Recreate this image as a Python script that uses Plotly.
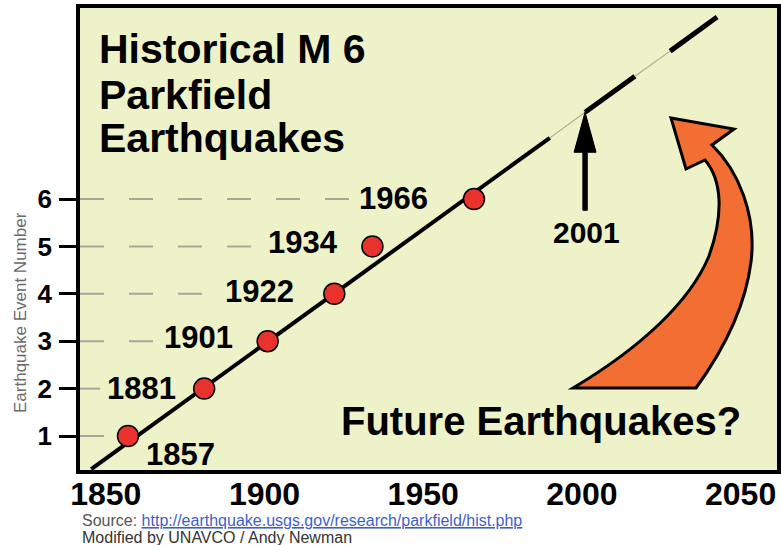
import plotly.graph_objects as go

# ---------------- data ----------------
quake_years = [1857, 1881, 1901, 1922, 1934, 1966]
event_numbers = [1, 2, 3, 4, 5, 6]
year_labels = ["1857", "1881", "1901", "1922", "1934", "1966"]

# trend line break points (year, event number): solid, thin, dash, thin, dash
trend_years = [1845.4, 1989.9, 2001.0, 2016.7, 2027.8, 2042.6]
trend_events = [0.30, 7.29, 7.83, 8.59, 9.12, 9.84]

x_ticks = [1850, 1900, 1950, 2000, 2050]
x_tick_labels = ["1850", "1900", "1950", "2000", "2050"]
y_ticks = [1, 2, 3, 4, 5, 6]
y_tick_labels = ["1", "2", "3", "4", "5", "6"]

predicted_year = 2001
predicted_label = "2001"

title_lines = ["Historical M 6", "Parkfield", "Earthquakes"]
future_text = "Future Earthquakes?"
y_title = "Earthquake Event Number"
source_prefix = "Source: "
source_url = "http://earthquake.usgs.gov/research/parkfield/hist.php"
credit_text = "Modified by UNAVCO / Andy Newman"

# ---------------- layout / style ----------------
W, H = 781, 545
ML, MR, MT, MB = 80, 4, 8, 75
X_RANGE = [1841.88, 2061.47]
Y_RANGE = [0.283, 10.03]
PW = W - ML - MR
PH = H - MT - MB
px_per_year = PW / (X_RANGE[1] - X_RANGE[0])

FONT = "Liberation Sans, Arial, Helvetica, sans-serif"
BG = "#EDF2C9"
RED = "#E8322B"
ORANGE = "#F26E33"
GRID = "#A6A89A"
THIN = "#A9AE8C"

label_anchor = ["left", "right", "right", "right", "right", "right"]
label_dx = [16, -26, -33, -38, -32, -44]
label_dy = [-18, 0, 4, 2, 4, 1]
label_w = 69


def rel(x, y):
    """page pixel -> pixel offset from the plot's bottom-left corner"""
    return x - ML, (MT + PH) - y


fig = go.Figure()

# trend line segments
seg_styles = [
    (0, 1, "black", 4),
    (1, 2, THIN, 1.2),
    (2, 3, "black", 5),
    (3, 4, THIN, 1.2),
    (4, 5, "black", 5),
]
for i0, i1, col, w in seg_styles:
    fig.add_trace(go.Scatter(
        x=trend_years[i0:i1 + 1], y=trend_events[i0:i1 + 1],
        mode="lines", line=dict(color=col, width=w),
        hoverinfo="skip", showlegend=False))

# earthquake dots
fig.add_trace(go.Scatter(
    x=quake_years, y=event_numbers, mode="markers",
    marker=dict(size=21, color=RED, line=dict(color="black", width=1.5)),
    showlegend=False, hoverinfo="x+y"))

shapes = []
annotations = []

# dashed leader lines from the axis to each label
for i, (yr, ev) in enumerate(zip(quake_years, event_numbers)):
    if label_anchor[i] == "left":
        end_off = -24
    else:
        end_off = label_dx[i] - label_w - 9
    shapes.append(dict(
        type="line", xref="x", yref="y", layer="below",
        x0=X_RANGE[0], x1=yr + end_off / px_per_year, y0=ev, y1=ev,
        line=dict(color=GRID, width=2, dash="24px,25px")))
    annotations.append(dict(
        x=yr, y=ev, xref="x", yref="y", text=year_labels[i],
        showarrow=False, xanchor=label_anchor[i], yanchor="middle",
        xshift=label_dx[i], yshift=label_dy[i],
        font=dict(family=FONT, size=31, color="black", weight="bold")))

# black arrow pointing at the predicted year
pred_idx = trend_years.index(float(predicted_year))
shapes.append(dict(
    type="path", xref="x", yref="y", xsizemode="pixel", ysizemode="pixel",
    xanchor=predicted_year, yanchor=trend_events[pred_idx],
    path="M0,0 L-11,-40 L-2.2,-40 L-2.2,-98 L2.2,-98 L2.2,-40 L11,-40 Z",
    fillcolor="black", line=dict(color="black", width=1)))
annotations.append(dict(
    x=predicted_year, y=trend_events[pred_idx], xref="x", yref="y",
    text=predicted_label, showarrow=False, xanchor="center", yanchor="middle",
    xshift=1, yshift=-120,
    font=dict(family=FONT, size=30, color="black", weight="bold")))

# big curved orange arrow (decoration), smooth outline
P = {k: rel(*v) for k, v in {
    "tip": (671, 118), "rb": (734, 129), "jr": (712, 145),
    "o1": (738, 170), "o2": (757, 215), "o3": (751, 262),
    "o4": (745, 310), "o5": (722, 352), "br": (696, 388),
    "bl": (573, 388),
    "i1": (640, 348), "i2": (690, 302), "i3": (709, 256),
    "i4": (724, 214), "i5": (722, 180), "jl": (705, 160),
    "lb": (686, 169),
}.items()}


def f(k):
    return f"{P[k][0]:.1f},{P[k][1]:.1f}"


opath = (f"M{f('tip')} L{f('rb')} L{f('jr')} "
         f"C{f('o1')} {f('o2')} {f('o3')} "
         f"C{f('o4')} {f('o5')} {f('br')} "
         f"L{f('bl')} "
         f"C{f('i1')} {f('i2')} {f('i3')} "
         f"C{f('i4')} {f('i5')} {f('jl')} "
         f"L{f('lb')} Z")
shapes.append(dict(
    type="path", xref="paper", yref="paper", xsizemode="pixel", ysizemode="pixel",
    xanchor=0, yanchor=0, path=opath, fillcolor=ORANGE,
    line=dict(color="black", width=3)))

# title
title_y_px = [49, 95, 138.3]
for txt, ypx in zip(title_lines, title_y_px):
    annotations.append(dict(
        x=(97 - ML) / PW, y=(MT + PH - ypx) / PH, xref="paper", yref="paper",
        text=txt, showarrow=False, xanchor="left", yanchor="middle",
        font=dict(family=FONT, size=41, color="black", weight="bold")))

annotations.append(dict(
    x=(339 - ML) / PW, y=(MT + PH - 421.3) / PH, xref="paper", yref="paper",
    text=future_text, showarrow=False, xanchor="left", yanchor="middle",
    font=dict(family=FONT, size=40, color="black", weight="bold")))

# y axis title
annotations.append(dict(
    x=(20 - ML) / PW, y=(MT + PH - 313) / PH, xref="paper", yref="paper",
    text=y_title, showarrow=False, textangle=-90,
    xanchor="center", yanchor="middle",
    font=dict(family=FONT, size=17, color="#6b6b6b")))

# source lines
annotations.append(dict(
    x=0, y=(MT + PH - 520) / PH, xref="paper", yref="paper",
    text=(f"<span style='color:#555555'>{source_prefix}</span>"
          f"<span style='color:#3F5FC8;text-decoration:underline'>{source_url}</span>"),
    showarrow=False, xanchor="left", yanchor="middle",
    font=dict(family=FONT, size=16, color="#555555")))
annotations.append(dict(
    x=0, y=(MT + PH - 537) / PH, xref="paper", yref="paper",
    text=credit_text, showarrow=False, xanchor="left", yanchor="middle",
    font=dict(family=FONT, size=16, color="#333333")))

fig.update_layout(
    width=W, height=H, template="none",
    margin=dict(l=ML, r=MR, t=MT, b=MB, pad=0),
    paper_bgcolor="white", plot_bgcolor=BG,
    showlegend=False,
    shapes=shapes, annotations=annotations,
    xaxis=dict(range=X_RANGE, tickvals=x_ticks, ticktext=x_tick_labels,
               showgrid=False, zeroline=False, ticks="",
               showline=True, linecolor="black", linewidth=3.5, mirror=True,
               ticklabelstandoff=-7,
               tickfont=dict(family=FONT, size=32, color="black", weight="bold")),
    yaxis=dict(range=Y_RANGE, tickvals=y_ticks, ticktext=y_tick_labels,
               showgrid=False, zeroline=False, ticks="outside", ticklen=17,
               tickwidth=3, tickcolor="black",
               showline=True, linecolor="black", linewidth=3.5, mirror=True,
               ticklabelstandoff=2,
               tickfont=dict(family=FONT, size=26, color="black", weight="bold")),
)

fig.write_html(
    "out.html",
    config={"displayModeBar": False},
    post_script="document.body.style.margin='0';document.body.style.padding='0';")
